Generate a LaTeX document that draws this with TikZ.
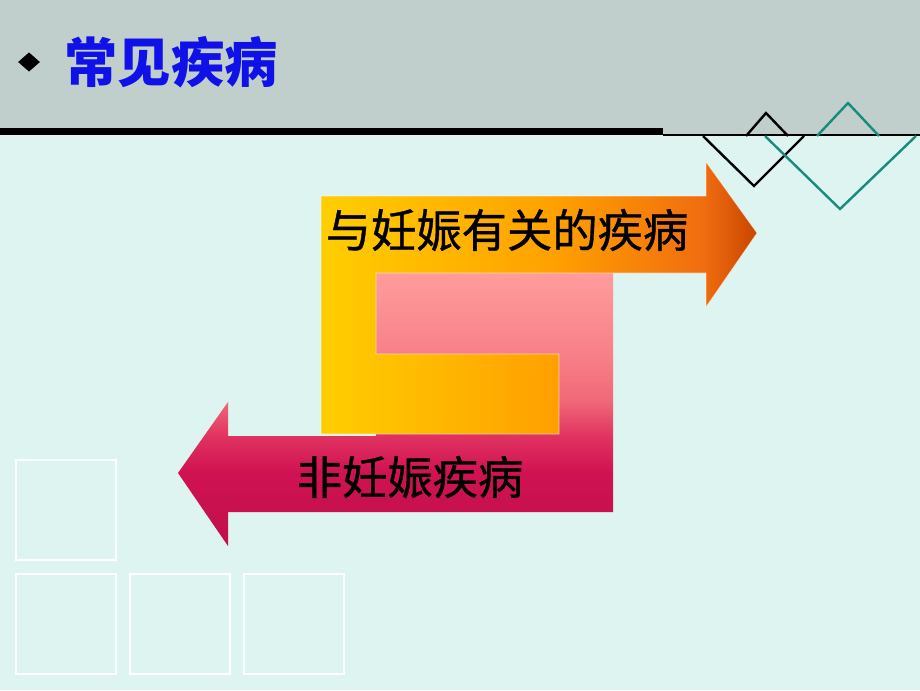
\documentclass[tikz,border=0pt]{standalone}
\usepackage{fontspec}
\newfontfamily\cjk{Noto Sans CJK SC}
\newfontfamily\cjkheavy[FakeBold=0.8]{Noto Sans CJK SC}
\usepackage{tikz}
\usetikzlibrary{shapes.geometric}
\definecolor{headgray}{RGB}{192,207,203}
\definecolor{pagebg}{RGB}{221,244,240}
\definecolor{titleblue}{RGB}{16,16,232}
\definecolor{tealline}{RGB}{26,138,128}
\definecolor{gold1}{RGB}{255,206,0}
\definecolor{orange1}{RGB}{255,160,0}
\definecolor{orange2}{RGB}{240,108,16}
\definecolor{rust}{RGB}{200,70,0}
\definecolor{crimson}{RGB}{192,16,74}
\definecolor{crimson2}{RGB}{208,18,82}
\definecolor{rose1}{RGB}{224,50,96}
\definecolor{rose2}{RGB}{240,104,120}
\definecolor{rose3}{RGB}{248,128,136}
\definecolor{pink1}{RGB}{255,156,156}
\pgfdeclarehorizontalshading{pregshade}{100bp}{color(0bp)=(gold1); color(25bp)=(gold1); color(52bp)=(orange1); color(69bp)=(orange2); color(75bp)=(rust); color(100bp)=(rust)}
\pgfdeclareverticalshading{nonpregshade}{100bp}{color(0bp)=(crimson); color(25bp)=(crimson); color(38.5bp)=(crimson2); color(45bp)=(rose1); color(51.5bp)=(rose2); color(60bp)=(rose3); color(75bp)=(pink1); color(100bp)=(pink1)}
\tikzstyle{label_text}=[font=\cjkheavy\fontsize{34}{37}\selectfont, text=black, inner sep=0pt]
\tikzstyle{title_text}=[font=\cjk\bfseries\fontsize{40}{44}\selectfont, text=titleblue, inner sep=0pt]
\tikzstyle{bullet_mark}=[diamond, fill=black, inner sep=0pt, minimum width=16.5pt, minimum height=14.5pt]
\tikzstyle{deco_square}=[draw=white, line width=1.5pt, minimum size=75pt, inner sep=0pt]
\tikzstyle{black_zigzag}=[draw=black, line width=1.8pt]
\tikzstyle{teal_zigzag}=[draw=tealline, line width=1.8pt]

\begin{document}
\begin{tikzpicture}[x=0.75pt, y=-0.75pt]
\useasboundingbox (0,0) rectangle (920,690);
\fill[pagebg] (0,0) rectangle (920,690);
% header band
\fill[headgray] (0,0) rectangle (920,135);
\fill[black] (0,128) rectangle (663,135);
\draw[line width=1pt] (663,135) -- (920,135);
\node[bullet_mark] (bullet) at (29,62) {};
\node[title_text] (title) at (171,62) {常见疾病};
% corner zigzags
\draw[black_zigzag] (746,136) -- (766,113) -- (788,136);
\draw[black_zigzag] (703,136) -- (754,186) -- (804,136);
\draw[teal_zigzag] (817,136) -- (848,103) -- (879,136);
\draw[teal_zigzag] (765,136) -- (840,209) -- (916,136);
% arrows
\shade[shading=nonpregshade] (376,273) -- (613,273) -- (613,512) -- (228,512) -- (228,546)
  -- (178,473) -- (228,402) -- (228,436) -- (376,436) -- cycle;
\shade[shading=pregshade, draw=white, draw opacity=0.6, line width=0.5pt]
  (321,196) -- (706,196) -- (706,162) -- (757,233) -- (706,307) -- (706,273)
  -- (376,273) -- (376,354) -- (559,354) -- (559,434) -- (321,434) -- cycle;
\node[label_text] (pregLabel) at (507,230) {与妊娠有关的疾病};
\node[label_text] (nonPregLabel) at (410,477) {非妊娠疾病};
% squares
\node[deco_square] (sq1) at (66,510) {};
\node[deco_square] (sq2) at (66,624) {};
\node[deco_square] (sq3) at (180,624) {};
\node[deco_square] (sq4) at (294,624) {};
\end{tikzpicture}
\end{document}
